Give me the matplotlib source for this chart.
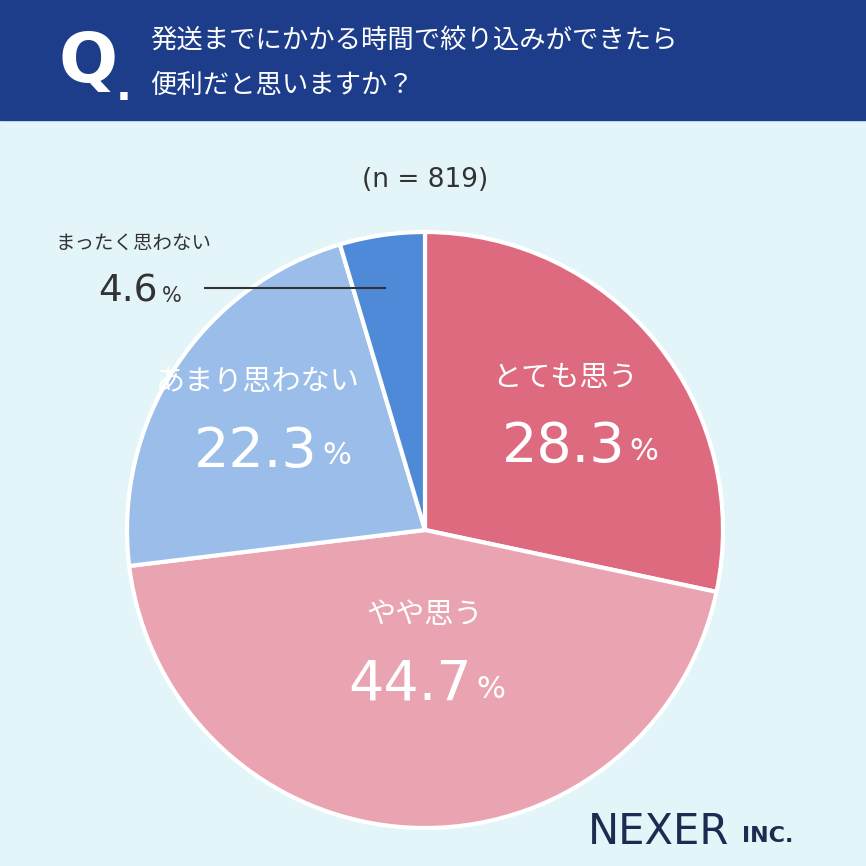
import matplotlib
matplotlib.use('Agg')
import matplotlib.pyplot as plt
from matplotlib.patches import Rectangle

plt.rcParams['font.family'] = 'Noto Sans CJK JP'

labels = ['とても思う', 'やや思う', 'あまり思わない', 'まったく思わない']
values = [28.3, 44.7, 22.3, 4.6]
colors = ['#de6a80', '#e9a3b1', '#9bbde9', '#4f8ad9']
title_lines = ['発送までにかかる時間で絞り込みができたら', '便利だと思いますか？']
n_text = '(n = 819)'

W = 866.0
fig = plt.figure(figsize=(8.66, 8.66), dpi=100)
fig.patch.set_facecolor('#e3f5f8')

def fx(x):
    return x / W

def fy(y):
    return 1 - y / W

NUM = 'DejaVu Sans'

# header band
fig.patches.append(Rectangle((0, fy(120)), 1, 120 / W, transform=fig.transFigure,
                             color='#1d3c8a', zorder=0))
fig.text(fx(58), fy(62), 'Q', color='white', fontsize=50, fontweight='bold',
         ha='left', va='center', family=NUM)
fig.text(fx(116), fy(88), '.', color='white', fontsize=30, fontweight='bold',
         ha='left', va='center', family=NUM)
fig.text(fx(150), fy(40), title_lines[0], color='white', fontsize=19, ha='left', va='center')
fig.text(fx(150), fy(85), title_lines[1], color='white', fontsize=19, ha='left', va='center')

fig.text(fx(425), fy(180), n_text, color='#333333', fontsize=19, ha='center', va='center',
         family=NUM)

cx, cy, r = 425, 530, 298
ax = fig.add_axes([fx(cx - r), fy(cy + r), 2 * r / W, 2 * r / W])
ax.pie(values, colors=colors, startangle=90, counterclock=False,
       wedgeprops=dict(edgecolor='white', linewidth=3))
ax.set_xlim(-1, 1)
ax.set_ylim(-1, 1)
ax.set_aspect('equal')
ax.axis('off')

def pct(x, y, num, size, color='white', psize=None):
    fig.text(fx(x), fy(y), num, color=color, fontsize=size, ha='right', va='center', family=NUM)
    fig.text(fx(x + 4), fy(y + 4), '%', color=color, fontsize=psize or size * 0.55,
             ha='left', va='center', family=NUM)

fig.text(fx(565), fy(378), labels[0], color='white', fontsize=21, ha='center', va='center')
pct(625, 447, '28.3', 40)

fig.text(fx(425), fy(615), labels[1], color='white', fontsize=21, ha='center', va='center')
pct(472, 685, '44.7', 40)

fig.text(fx(258), fy(382), labels[2], color='white', fontsize=21, ha='center', va='center')
pct(318, 452, '22.3', 40)

fig.text(fx(55), fy(243), labels[3], color='#333333', fontsize=14, ha='left', va='center')
pct(158, 292, '4.6', 27, color='#333333', psize=15)
fig.add_artist(plt.Line2D([fx(205), fx(385)], [fy(288), fy(288)], color='#333333', lw=1.5))

fig.text(fx(588), fy(832), 'NEXER', color='#1d2b50', fontsize=30, ha='left', va='center',
         family=NUM)
fig.text(fx(742), fy(836), 'INC.', color='#1d2b50', fontsize=16, ha='left', va='center',
         family=NUM, fontweight='bold')

fig.savefig('out.png', dpi=100, facecolor=fig.get_facecolor())
